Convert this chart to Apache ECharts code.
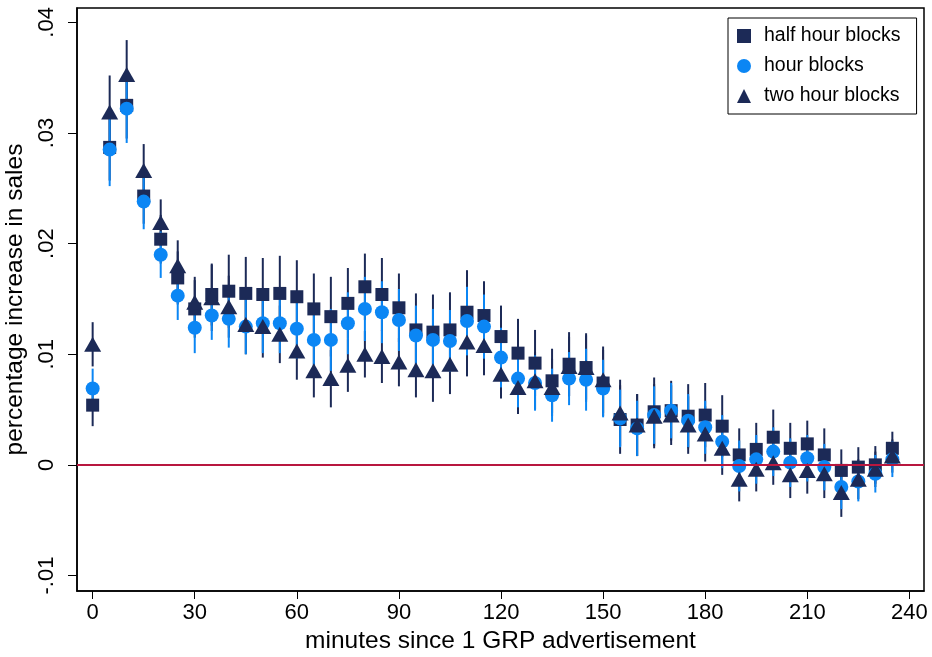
<!DOCTYPE html>
<html>
<head>
<meta charset="utf-8">
<title>Sales response to 1 GRP advertisement</title>
<script src="https://cdn.jsdelivr.net/npm/echarts@6/dist/echarts.min.js"></script>
<style>
  html, body { margin: 0; padding: 0; background: #fff; }
  #chart { width: 932px; height: 657px; }
</style>
</head>
<body>
<div id="chart"></div>
<script>
// Minutes elapsed since the advertisement aired
const minutes = [0, 5, 10, 15, 20, 25, 30, 35, 40, 45, 50, 55, 60, 65, 70, 75, 80, 85, 90, 95,
  100, 105, 110, 115, 120, 125, 130, 135, 140, 145, 150, 155, 160, 165, 170, 175, 180, 185, 190, 195,
  200, 205, 210, 215, 220, 225, 230, 235];

// Point estimates, half hour blocks
const halfHour = [0.0054, 0.0287, 0.0325, 0.0243, 0.0204, 0.0169, 0.0141, 0.0154, 0.0157, 0.0155,
  0.0154, 0.0155, 0.0152, 0.0141, 0.0134, 0.0146, 0.0161, 0.0154, 0.0142, 0.0122,
  0.0120, 0.0122, 0.0138, 0.0135, 0.0116, 0.0101, 0.0092, 0.0076, 0.0091, 0.0088,
  0.0074, 0.0041, 0.0036, 0.0048, 0.0049, 0.0044, 0.0045, 0.0035, 0.0009, 0.0014,
  0.0025, 0.0015, 0.0019, 0.0009, -0.0005, -0.0002, 0.0000, 0.0015];
// 95% interval half-widths, half hour blocks
const halfHourCI = [0.0019, 0.0030, 0.0030, 0.0025, 0.0022, 0.0024, 0.0026, 0.0028, 0.0033, 0.0033,
  0.0033, 0.0034, 0.0033, 0.0032, 0.0036, 0.0032, 0.0030, 0.0033, 0.0031, 0.0033,
  0.0034, 0.0034, 0.0038, 0.0031, 0.0028, 0.0031, 0.0030, 0.0029, 0.0029, 0.0031,
  0.0030, 0.0031, 0.0028, 0.0031, 0.0027, 0.0029, 0.0029, 0.0028, 0.0024, 0.0024,
  0.0025, 0.0023, 0.0021, 0.0024, 0.0019, 0.0018, 0.0017, 0.0015];

// Point estimates, hour blocks
const hourBlk = [0.0069, 0.0285, 0.0322, 0.0238, 0.0190, 0.0153, 0.0124, 0.0135, 0.0132, 0.0125,
  0.0128, 0.0128, 0.0123, 0.0113, 0.0113, 0.0128, 0.0141, 0.0138, 0.0131, 0.0117,
  0.0113, 0.0112, 0.0130, 0.0125, 0.0097, 0.0078, 0.0074, 0.0063, 0.0078, 0.0077,
  0.0069, 0.0042, 0.0033, 0.0045, 0.0049, 0.0040, 0.0034, 0.0021, -0.0001, 0.0005,
  0.0012, 0.0002, 0.0006, -0.0002, -0.0020, -0.0015, -0.0008, 0.0005];
const hourCI = [0.0018, 0.0033, 0.0031, 0.0025, 0.0021, 0.0022, 0.0023, 0.0022, 0.0026, 0.0025,
  0.0027, 0.0027, 0.0027, 0.0027, 0.0028, 0.0028, 0.0029, 0.0028, 0.0028, 0.0027,
  0.0028, 0.0028, 0.0031, 0.0029, 0.0027, 0.0026, 0.0025, 0.0024, 0.0024, 0.0028,
  0.0026, 0.0026, 0.0025, 0.0026, 0.0025, 0.0024, 0.0024, 0.0024, 0.0023, 0.0022,
  0.0022, 0.0022, 0.0021, 0.0021, 0.0020, 0.0018, 0.0017, 0.0016];

// Point estimates, two hour blocks
const twoHour = [0.0109, 0.0319, 0.0353, 0.0266, 0.0219, 0.0180, 0.0147, 0.0151, 0.0143, 0.0127,
  0.0125, 0.0118, 0.0103, 0.0085, 0.0078, 0.0090, 0.0100, 0.0098, 0.0093, 0.0086,
  0.0085, 0.0091, 0.0111, 0.0108, 0.0082, 0.0070, 0.0076, 0.0070, 0.0089, 0.0088,
  0.0077, 0.0047, 0.0036, 0.0044, 0.0045, 0.0036, 0.0028, 0.0015, -0.0013, -0.0004,
  0.0002, -0.0009, -0.0005, -0.0008, -0.0025, -0.0013, -0.0004, 0.0008];
const twoHourCI = [0.0020, 0.0033, 0.0031, 0.0024, 0.0021, 0.0023, 0.0023, 0.0030, 0.0028, 0.0027,
  0.0028, 0.0026, 0.0026, 0.0024, 0.0026, 0.0024, 0.0021, 0.0024, 0.0022, 0.0025,
  0.0028, 0.0027, 0.0031, 0.0027, 0.0022, 0.0024, 0.0026, 0.0026, 0.0027, 0.0029,
  0.0030, 0.0030, 0.0028, 0.0029, 0.0027, 0.0026, 0.0025, 0.0024, 0.0020, 0.0020,
  0.0020, 0.0021, 0.0021, 0.0022, 0.0022, 0.0018, 0.0016, 0.0015];

const xTicks = [0, 30, 60, 90, 120, 150, 180, 210, 240];
const yTicks = [-0.01, 0, 0.01, 0.02, 0.03, 0.04];
const yTickLabels = ['-.01', '0', '.01', '.02', '.03', '.04'];

const seriesNames = ['half hour blocks', 'hour blocks', 'two hour blocks'];

const NAVY = '#1c2a57';
const BLUE = '#0b86f4';
const FONT = '"Liberation Sans", Arial, Helvetica, sans-serif';

function points(vals) {
  return minutes.map((m, i) => [m, vals[i]]);
}
function intervals(vals, half) {
  return minutes.map((m, i) => [m, vals[i] - half[i], vals[i] + half[i]]);
}
function spikeSeries(vals, half, color, extra) {
  return Object.assign({
    type: 'custom',
    silent: true,
    data: intervals(vals, half),
    encode: { x: 0, y: [1, 2] },
    renderItem: function (params, api) {
      const a = api.coord([api.value(0), api.value(1)]);
      const b = api.coord([api.value(0), api.value(2)]);
      return {
        type: 'line',
        shape: { x1: a[0], y1: a[1], x2: b[0], y2: b[1] },
        style: { stroke: color, lineWidth: 2 }
      };
    }
  }, extra || {});
}

const chart = echarts.init(document.getElementById('chart'), null, { renderer: 'canvas' });

chart.setOption({
  animation: false,
  backgroundColor: '#fff',
  textStyle: { fontFamily: FONT },
  grid: {
    left: 77, right: 8, top: 8, bottom: 66,
    containLabel: false,
    outerBoundsMode: 'none',
    show: true, borderColor: '#000', borderWidth: 1.5, backgroundColor: '#fff'
  },
  legend: {
    orient: 'vertical',
    left: 728, top: 18,
    padding: [8, 16, 8, 9],
    borderColor: '#000', borderWidth: 1,
    backgroundColor: '#fff',
    itemWidth: 14, itemHeight: 14, itemGap: 10,
    textStyle: { fontFamily: FONT, fontSize: 19.5, color: '#000', padding: [0, 0, 0, 8] },
    data: [
      { name: seriesNames[0], icon: 'rect' },
      { name: seriesNames[1], icon: 'circle' },
      { name: seriesNames[2], icon: 'triangle' }
    ]
  },
  xAxis: {
    type: 'value',
    min: -4.6, max: 244.3,
    name: 'minutes since 1 GRP advertisement',
    nameLocation: 'middle',
    nameGap: 37,
    nameTextStyle: { fontFamily: FONT, fontSize: 24.5, color: '#000' },
    axisLine: { show: true, onZero: false, lineStyle: { color: '#000', width: 1.5 } },
    axisTick: { show: true, length: 8, customValues: xTicks, lineStyle: { color: '#000', width: 1 } },
    axisLabel: { customValues: xTicks, fontFamily: FONT, fontSize: 22, color: '#000', margin: 11 },
    splitLine: { show: false }
  },
  yAxis: {
    type: 'value',
    min: -0.0114, max: 0.0413,
    name: 'percentage increase in sales',
    nameLocation: 'middle',
    nameRotate: 90,
    nameGap: 40,
    nameTextStyle: { fontFamily: FONT, fontSize: 24.5, color: '#000' },
    axisLine: { show: true, onZero: false, lineStyle: { color: '#000', width: 1.5 } },
    axisTick: { show: true, length: 9, customValues: yTicks, lineStyle: { color: '#000', width: 1 } },
    axisLabel: {
      customValues: yTicks,
      rotate: 90,
      fontFamily: FONT, fontSize: 22, color: '#000', margin: 19,
      formatter: function (v) {
        const i = yTicks.findIndex(t => Math.abs(t - v) < 1e-9);
        return i >= 0 ? yTickLabels[i] : '';
      }
    },
    splitLine: { show: false }
  },
  series: [
    spikeSeries(halfHour, halfHourCI, NAVY, {
      markLine: {
        silent: true,
        symbol: 'none',
        label: { show: false },
        lineStyle: { color: '#b8173f', width: 2, type: 'solid', opacity: 1 },
        data: [{ yAxis: 0 }]
      }
    }),
    spikeSeries(twoHour, twoHourCI, NAVY),
    {
      name: seriesNames[0],
      type: 'scatter',
      symbol: 'rect',
      symbolSize: 13,
      itemStyle: { color: NAVY, opacity: 1 },
      data: points(halfHour)
    },
    spikeSeries(hourBlk, hourCI, BLUE),
    {
      name: seriesNames[1],
      type: 'scatter',
      symbol: 'circle',
      symbolSize: 14,
      itemStyle: { color: BLUE, opacity: 1 },
      data: points(hourBlk)
    },
    {
      name: seriesNames[2],
      type: 'scatter',
      symbol: 'triangle',
      symbolSize: [17, 15],
      itemStyle: { color: NAVY, opacity: 1 },
      data: points(twoHour)
    }
  ]
});
</script>
</body>
</html>
